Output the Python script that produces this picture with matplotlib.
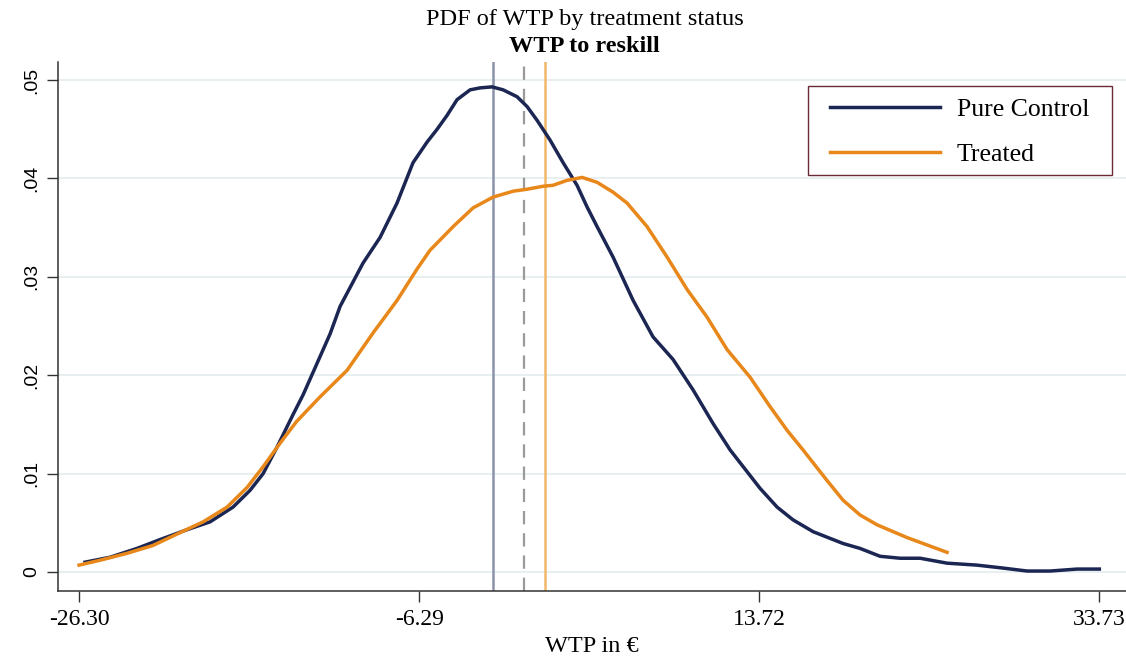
import matplotlib.pyplot as plt
from matplotlib.patches import Rectangle

# Kernel density estimates of WTP (in euros), read per group
control_x = [-25.95, -24.48, -22.89, -21.53, -19.95, -18.59, -17.24, -16.24,
             -15.47, -14.65, -13.71, -13.12, -12.35, -11.53, -10.94, -9.59,
             -8.59, -7.59, -6.65, -5.82, -5.23, -4.65, -4.06, -3.29, -2.70,
             -2.00, -1.35, -0.53, 0.06, 0.65, 1.41, 2.18, 3.00, 3.59, 4.18,
             5.12, 6.30, 7.47, 8.65, 9.83, 11.00, 12.01, 13.77, 14.77, 15.71,
             16.89, 18.65, 19.65, 20.83, 22.01, 23.19, 24.77, 26.54, 28.07,
             29.48, 30.83, 32.42, 33.73]
control_y = [0.0010, 0.0015, 0.0024, 0.0033, 0.0043, 0.0051, 0.0066, 0.0083,
             0.0100, 0.0127, 0.0160, 0.0180, 0.0210, 0.0242, 0.0270, 0.0314,
             0.0340, 0.0375, 0.0416, 0.0437, 0.0450, 0.0464, 0.0480, 0.0490,
             0.0492, 0.0493, 0.0490, 0.0483, 0.0473, 0.0459, 0.0439, 0.0416,
             0.0393, 0.0371, 0.0351, 0.0320, 0.0276, 0.0239, 0.0216, 0.0185,
             0.0151, 0.0124, 0.0085, 0.0066, 0.0053, 0.0041, 0.0029, 0.0024,
             0.0016, 0.0014, 0.0014, 0.0009, 0.0007, 0.0004, 0.0001, 0.0001,
             0.0003, 0.0003]

treated_x = [-26.30, -25.06, -23.48, -21.95, -20.36, -19.00, -17.59, -16.41,
             -15.47, -14.47, -13.50, -12.12, -10.53, -9.00, -7.59, -6.41,
             -5.65, -4.29, -3.12, -1.94, -0.76, 0.06, 1.00, 1.59, 2.41, 3.30,
             4.18, 5.12, 5.94, 7.12, 8.30, 9.48, 10.65, 11.83, 13.18, 14.36,
             15.36, 16.30, 17.71, 18.65, 19.65, 20.65, 22.42, 23.36, 24.77]
treated_y = [0.0007, 0.0012, 0.0019, 0.0027, 0.0040, 0.0051, 0.0066, 0.0086,
             0.0107, 0.0131, 0.0153, 0.0178, 0.0205, 0.0243, 0.0276, 0.0308,
             0.0327, 0.0351, 0.0370, 0.0381, 0.0387, 0.0389, 0.0392, 0.0393,
             0.0398, 0.0401, 0.0396, 0.0386, 0.0375, 0.0351, 0.0320, 0.0287,
             0.0259, 0.0226, 0.0198, 0.0168, 0.0144, 0.0124, 0.0093, 0.0073,
             0.0058, 0.0048, 0.0035, 0.0029, 0.0020]

# Group means and pooled mean
mean_control = -1.93
mean_pooled = -0.11
mean_treated = 1.13

x_ticks = [-26.30, -6.29, 13.72, 33.73]
y_ticks = [0, 0.01, 0.02, 0.03, 0.04, 0.05]
y_ticklabels = ['0', '.01', '.02', '.03', '.04', '.05']

NAVY = '#1b2653'
ORANGE = '#e8871a'
SERIF = ['Liberation Serif', 'DejaVu Serif']
SANS = ['Liberation Sans', 'DejaVu Sans']

fig = plt.figure(figsize=(11.26, 6.58), dpi=100)
ax = fig.add_axes([0.0515, 0.1018, 0.9485, 0.804])

for y in y_ticks:
    ax.axhline(y, color='#e6eef0', lw=1.3, zorder=0)

ax.axvline(mean_control, color='#8a93ab', lw=1.8, zorder=1)
ax.axvline(mean_pooled, color='#9a9a9a', lw=1.6, ls=(0, (6, 4)), zorder=1)
ax.axvline(mean_treated, color='#f0b868', lw=1.8, zorder=1)

ax.plot(control_x, control_y, color=NAVY, lw=2.5, label='Pure Control',
        solid_joinstyle='round', zorder=3)
ax.plot(treated_x, treated_y, color=ORANGE, lw=2.5, label='Treated',
        solid_joinstyle='round', zorder=3)

ax.set_xlim(-27.54, 35.30)
ax.set_ylim(-0.00193, 0.05183)

ax.set_xticks(x_ticks)
ax.set_xticklabels([f'{v:.2f}' for v in x_ticks], fontfamily=SERIF, fontsize=17)
ax.set_yticks(y_ticks)
ax.set_yticklabels(y_ticklabels, fontfamily=SANS, fontsize=14,
                   rotation=90, va='center')
ax.tick_params(axis='both', direction='out', length=8, width=1, color='#333333')
ax.tick_params(axis='y', pad=5)
ax.tick_params(axis='x', pad=5)

for side in ('top', 'right'):
    ax.spines[side].set_visible(False)
for side in ('left', 'bottom'):
    ax.spines[side].set_color('#333333')
    ax.spines[side].set_linewidth(1.1)

ax.set_xlabel('WTP in €', fontfamily=SERIF, fontsize=17.5, labelpad=4)

# legend entries without their own frame; the box is drawn separately
leg = ax.legend(loc='upper left', bbox_to_anchor=(0.737, 0.851),
                bbox_transform=fig.transFigure,
                prop={'family': SERIF, 'size': 18.5}, frameon=False,
                handlelength=4.3, handletextpad=0.65,
                labelspacing=0.85, borderpad=0, borderaxespad=0)
fig.add_artist(Rectangle((0.7176, 0.734), 0.27, 0.1353,
                         transform=fig.transFigure, fill=False,
                         edgecolor='#6a2a38', lw=1.0, zorder=5))

fig.text(0.519, 0.971, 'PDF of WTP by treatment status', ha='center',
         va='center', fontfamily=SERIF, fontsize=17.5)
fig.text(0.519, 0.930, 'WTP to reskill', ha='center', va='center',
         fontfamily=SERIF, fontsize=17.5, fontweight='bold')

fig.savefig('out.png', dpi=100)
